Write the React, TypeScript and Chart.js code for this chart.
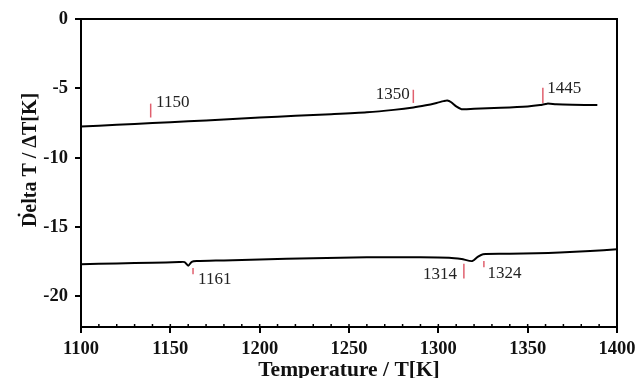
import React, { useEffect, useRef } from "react";
import { Chart, registerables } from "chart.js";
Chart.register(...registerables);

// Upper DTA trace (heating)
const upperTemps = [1100, 1120, 1140, 1160, 1180, 1200, 1220, 1240, 1260, 1275, 1286, 1293, 1299, 1303, 1305, 1307, 1310, 1313, 1320, 1335, 1350, 1357, 1361, 1366, 1375, 1389];
const upperDelta = [-7.75, -7.63, -7.5, -7.37, -7.25, -7.1, -6.98, -6.86, -6.72, -6.55, -6.38, -6.22, -6.05, -5.92, -5.88, -5.98, -6.3, -6.5, -6.47, -6.4, -6.3, -6.2, -6.1, -6.15, -6.18, -6.2];

// Lower DTA trace (cooling)
const lowerTemps = [1100, 1120, 1140, 1155, 1158, 1160, 1162, 1165, 1180, 1200, 1230, 1260, 1290, 1306, 1313, 1319, 1322, 1325, 1340, 1355, 1368, 1385, 1400];
const lowerDelta = [-17.68, -17.62, -17.57, -17.52, -17.52, -17.78, -17.5, -17.45, -17.4, -17.33, -17.25, -17.18, -17.17, -17.2, -17.3, -17.45, -17.15, -16.95, -16.92, -16.88, -16.83, -16.72, -16.6];

// Marker annotations (temperature labels)
const markerLabels = ["1150", "1350", "1445", "1161", "1314", "1324"];
const markerTemps = [1139, 1286, 1358.5, 1162.7, 1314.3, 1325.5];
const markerTop = [-6.1, -5.1, -4.95, -17.95, -17.65, -17.45];
const markerBottom = [-7.1, -6.05, -6.05, -18.4, -18.7, -17.9];
const labelTemps = [1142, 1284, 1361, 1165.5, 1310.5, 1327.5];
const labelDeltas = [-6.0, -5.45, -5.0, -18.8, -18.45, -18.38];
const labelSides = ["left", "right", "left", "left", "right", "left"];

const xMin = 1100;
const xMax = 1400;
const yMin = -22.2;
const yMax = 0;
const xTitle = "Temperature / T[K]";
const yTitle = "Delta T / \u0394T[K]";

const SERIF = "'Liberation Serif', 'Times New Roman', serif";

const decorPlugin = {
  id: "decor",
  afterDraw(chart: any) {
    const { ctx, chartArea, scales } = chart;
    const xs = scales.x;
    const ys = scales.y;
    ctx.save();
    // frame top and right
    ctx.strokeStyle = "#000";
    ctx.lineWidth = 2;
    ctx.beginPath();
    ctx.moveTo(chartArea.left, chartArea.top);
    ctx.lineTo(chartArea.right, chartArea.top);
    ctx.lineTo(chartArea.right, chartArea.bottom);
    ctx.stroke();
    // minor ticks inside on x axis
    ctx.lineWidth = 1.5;
    for (let t = xMin + 10; t < xMax; t += 10) {
      const px = xs.getPixelForValue(t);
      ctx.beginPath();
      ctx.moveTo(px, chartArea.bottom);
      ctx.lineTo(px, chartArea.bottom - 3);
      ctx.stroke();
    }
    // markers
    ctx.strokeStyle = "#e0606e";
    ctx.lineWidth = 1.5;
    markerTemps.forEach((t, i) => {
      const px = xs.getPixelForValue(t);
      ctx.beginPath();
      ctx.moveTo(px, ys.getPixelForValue(markerTop[i]));
      ctx.lineTo(px, ys.getPixelForValue(markerBottom[i]));
      ctx.stroke();
    });
    ctx.fillStyle = "#222";
    ctx.font = `17px ${SERIF}`;
    ctx.textBaseline = "middle";
    markerLabels.forEach((lab, i) => {
      ctx.textAlign = labelSides[i] === "left" ? "left" : "right";
      ctx.fillText(lab, xs.getPixelForValue(labelTemps[i]), ys.getPixelForValue(labelDeltas[i]));
    });
    // axis titles
    ctx.fillStyle = "#111";
    ctx.font = `bold 21.5px ${SERIF}`;
    ctx.textAlign = "center";
    ctx.textBaseline = "alphabetic";
    ctx.fillText(xTitle, (chartArea.left + chartArea.right) / 2, 376);
    // small stray dot beside the y title
    ctx.beginPath();
    ctx.arc(19, 215, 1.4, 0, Math.PI * 2);
    ctx.fill();
    ctx.font = `bold 20px ${SERIF}`;
    ctx.textBaseline = "middle";
    ctx.translate(31, 160);
    ctx.rotate(-Math.PI / 2);
    ctx.fillText(yTitle, 0, 0);
    ctx.restore();
  },
};

export default function App() {
  const ref = useRef<HTMLCanvasElement>(null);
  useEffect(() => {
    if (!ref.current) return;
    const chart = new Chart(ref.current, {
      type: "line",
      data: {
        datasets: [
          {
            data: upperTemps.map((t, i) => ({ x: t, y: upperDelta[i] })),
            borderColor: "#000",
            borderWidth: 2,
            pointRadius: 0,
            tension: 0.25,
          },
          {
            data: lowerTemps.map((t, i) => ({ x: t, y: lowerDelta[i] })),
            borderColor: "#000",
            borderWidth: 2,
            pointRadius: 0,
            tension: 0.25,
          },
        ],
      },
      options: {
        animation: false,
        responsive: false,
        devicePixelRatio: 1,
        layout: { padding: { top: 19, right: 20, left: 0, bottom: 0 } },
        plugins: { legend: { display: false }, tooltip: { enabled: false } },
        scales: {
          x: {
            type: "linear",
            min: xMin,
            max: xMax,
            afterFit: (s: any) => {
              s.height = 51;
              s.paddingLeft = 0;
              s.paddingRight = 0;
            },
            ticks: {
              stepSize: 50,
              color: "#111",
              padding: 5,
              maxRotation: 0,
              font: { family: SERIF, size: 18.5, weight: "bold" },
              callback: (v: any) => String(v),
            },
            grid: { display: true, drawOnChartArea: false, drawTicks: true, tickLength: 6, lineWidth: 2, color: "#000" },
            border: { display: true, width: 2, color: "#000" },
          },
          y: {
            type: "linear",
            min: yMin,
            max: yMax,
            afterFit: (s: any) => {
              s.width = 81;
              s.paddingTop = 0;
              s.paddingBottom = 0;
            },
            ticks: {
              stepSize: 5,
              includeBounds: false,
              color: "#111",
              padding: 7,
              font: { family: SERIF, size: 18.5, weight: "bold" },
            },
            grid: { display: true, drawOnChartArea: false, drawTicks: true, tickLength: 6, lineWidth: 2, color: "#000" },
            border: { display: true, width: 2, color: "#000" },
          },
        },
      },
      plugins: [decorPlugin],
    });
    return () => chart.destroy();
  }, []);
  return (
    <div style={{ position: "fixed", left: 0, top: 0, width: 637, height: 378, background: "#fff" }}>
      <canvas ref={ref} width={637} height={378} />
    </div>
  );
}
